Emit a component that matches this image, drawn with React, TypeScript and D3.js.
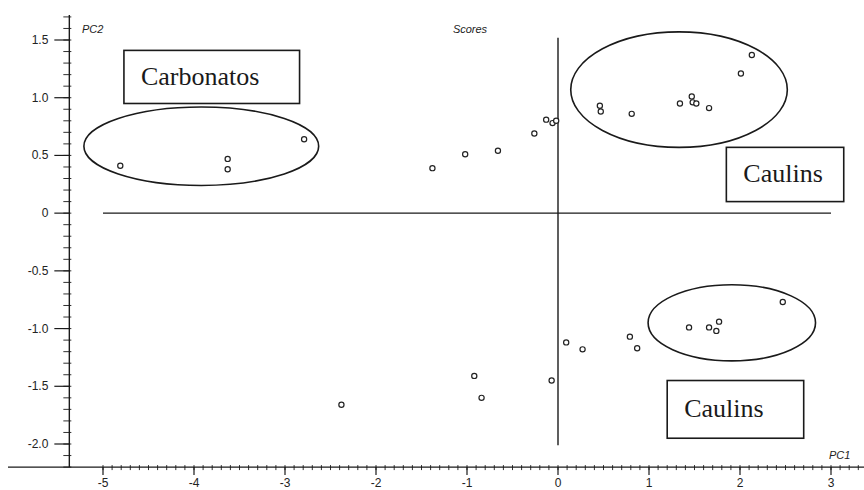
import React from 'react';
import * as d3 from 'd3';

// PCA scores
const pc1 = [
  -4.81, -3.63, -3.63, -2.79,
  -1.38, -1.02, -0.66, -0.26, -0.13, -0.06, -0.02,
  0.46, 0.47, 0.81, 1.34, 1.47, 1.48, 1.52, 1.66, 2.01, 2.13,
  -2.38, -0.92, -0.84, -0.07, 0.09, 0.27, 0.79, 0.87,
  1.44, 1.66, 1.77, 1.74, 2.47,
];
const pc2 = [
  0.41, 0.47, 0.38, 0.64,
  0.39, 0.51, 0.54, 0.69, 0.81, 0.78, 0.8,
  0.93, 0.88, 0.86, 0.95, 1.01, 0.96, 0.95, 0.91, 1.21, 1.37,
  -1.66, -1.41, -1.6, -1.45, -1.12, -1.18, -1.07, -1.17,
  -0.99, -0.99, -0.94, -1.02, -0.77,
];

const xTicks = [-5, -4, -3, -2, -1, 0, 1, 2, 3];
const yTicks = [1.5, 1.0, 0.5, 0, -0.5, -1.0, -1.5, -2.0];
const yTickLabels = ['1.5', '1.0', '0.5', '0', '-0.5', '-1.0', '-1.5', '-2.0'];

// group annotations (in score units)
const groupNames = ['Carbonatos', 'Caulins', 'Caulins'];
const ellipseCx = [-3.92, 1.33, 1.91];
const ellipseCy = [0.58, 1.07, -0.95];
const ellipseRx = [1.29, 1.19, 0.92];
const ellipseRy = [0.34, 0.5, 0.33];
const boxX0 = [-4.77, 1.85, 1.2];
const boxX1 = [-2.84, 3.14, 2.7];
const boxY0 = [1.41, 0.57, -1.45];
const boxY1 = [0.95, 0.1, -1.95];

const W = 864;
const H = 490;

export default function App() {
  const x = d3.scaleLinear().domain([-5, 3]).range([103, 831]);
  const y = d3.scaleLinear().domain([-2, 1.5]).range([444, 40]);
  const ink = '#1a1a1a';
  const sans = 'Arial, "Liberation Sans", sans-serif';
  const serif = '"Times New Roman", "Liberation Serif", serif';

  const axisY = y(-2.2);
  const axisX = x(-5.37);

  const xMinor = d3.range(-50, 34).map((i) => i / 10);
  const yMinor = d3.range(-22, 18).map((i) => i / 10);

  return (
    <svg
      width={W}
      height={H}
      style={{ position: 'absolute', left: 0, top: 0, background: '#fff' }}
    >
      {/* axes frame */}
      <line x1={8} x2={W} y1={axisY} y2={axisY} stroke={ink} strokeWidth={1.4} />
      <line x1={axisX} x2={axisX} y1={15} y2={axisY} stroke={ink} strokeWidth={1.4} />

      {xMinor.map((v, i) => (
        <line key={'xm' + i} x1={x(v)} x2={x(v)} y1={axisY - 2} y2={axisY + 3} stroke={ink} strokeWidth={0.9} />
      ))}
      {xTicks.map((v) => (
        <g key={'xt' + v}>
          <line x1={x(v)} x2={x(v)} y1={axisY} y2={axisY + 8} stroke={ink} strokeWidth={1.2} />
          <text x={x(v)} y={axisY + 20} textAnchor="middle" fontSize={12} fontFamily={sans} fill="#222">
            {v}
          </text>
        </g>
      ))}

      {yMinor.map((v, i) => (
        <line key={'ym' + i} x1={axisX - 6} x2={axisX + 2} y1={y(v)} y2={y(v)} stroke={ink} strokeWidth={0.9} />
      ))}
      {yTicks.map((v, i) => (
        <g key={'yt' + v}>
          <line x1={axisX - 15} x2={axisX} y1={y(v)} y2={y(v)} stroke={ink} strokeWidth={1.2} />
          <text x={axisX - 21} y={y(v) + 4} textAnchor="end" fontSize={12} fontFamily={sans} fill="#222">
            {yTickLabels[i]}
          </text>
        </g>
      ))}

      <text x={82} y={33} fontSize={11} fontStyle="italic" fontFamily={sans} fill="#222">PC2</text>
      <text x={470} y={33} textAnchor="middle" fontSize={11} fontStyle="italic" fontFamily={sans} fill="#222">Scores</text>
      <text x={829} y={459} fontSize={11} fontStyle="italic" fontFamily={sans} fill="#222">PC1</text>

      {/* zero lines */}
      <line x1={x(-5)} x2={x(3)} y1={y(0)} y2={y(0)} stroke={ink} strokeWidth={1.4} />
      <line x1={x(0)} x2={x(0)} y1={y(1.52)} y2={y(-2.01)} stroke={ink} strokeWidth={1.4} />

      {/* group ellipses */}
      {ellipseCx.map((cx, i) => (
        <ellipse
          key={'el' + i}
          cx={x(cx)}
          cy={y(ellipseCy[i])}
          rx={x(ellipseRx[i]) - x(0)}
          ry={y(0) - y(ellipseRy[i])}
          fill="none"
          stroke={ink}
          strokeWidth={1.6}
        />
      ))}

      {/* label boxes */}
      {groupNames.map((name, i) => (
        <g key={'bx' + i}>
          <rect
            x={x(boxX0[i])}
            y={y(boxY0[i])}
            width={x(boxX1[i]) - x(boxX0[i])}
            height={y(boxY1[i]) - y(boxY0[i])}
            fill="#fff"
            stroke={ink}
            strokeWidth={1.6}
          />
          <text
            x={x(boxX0[i]) + 17}
            y={(y(boxY0[i]) + y(boxY1[i])) / 2 + 8}
            fontSize={26}
            fontFamily={serif}
            fill="#1a1a1a"
          >
            {name}
          </text>
        </g>
      ))}

      {/* score points */}
      {pc1.map((v, i) => (
        <circle key={'p' + i} cx={x(v)} cy={y(pc2[i])} r={2.6} fill="#fff" stroke="#222" strokeWidth={1.2} />
      ))}
    </svg>
  );
}
